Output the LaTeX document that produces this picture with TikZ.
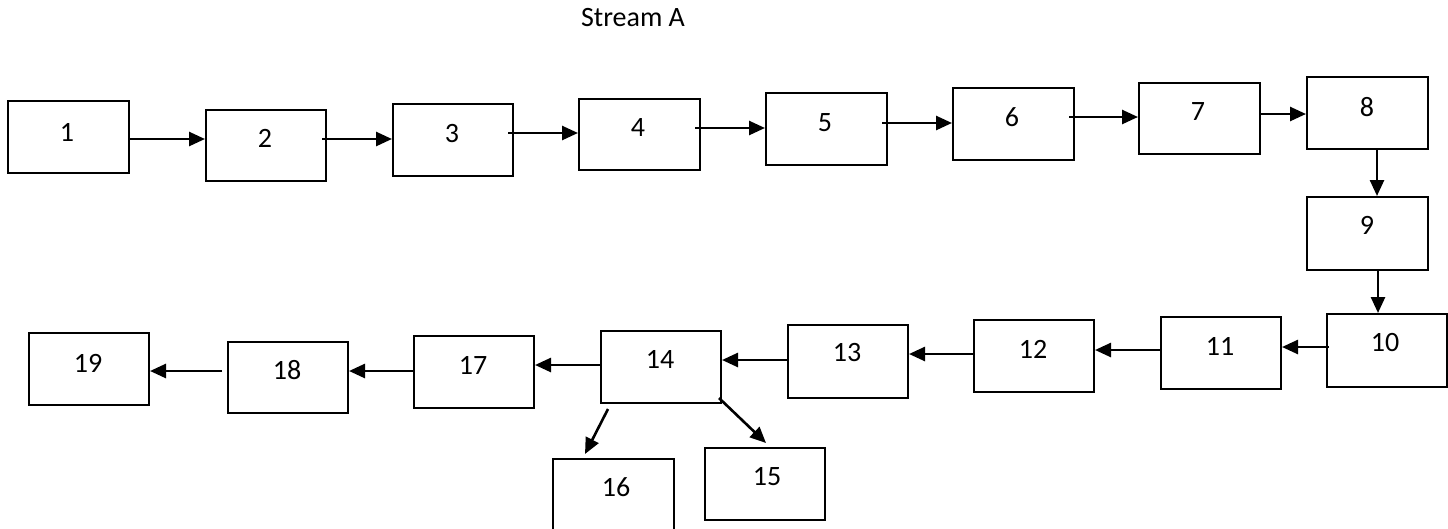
\documentclass[tikz,border=0pt]{standalone}
\usepackage{fontspec}
\setmainfont{Carlito}
\usetikzlibrary{arrows.meta,calc}
\tikzset{
  boxnode/.style={draw=black, line width=2pt, fill=white, inner sep=0pt, anchor=north west},
  lbl/.style={inner sep=0pt, font=\fontsize{28}{34}\selectfont},
  arr/.style={line width=2.6pt, -{Triangle[length=16pt,width=14pt]}},
}
\newcommand{\bx}[5]{\node[boxnode, minimum width=#4-#2, minimum height=#5-#3] (#1) at (#2,#3) {};}
\begin{document}
\begin{tikzpicture}[x=1pt,y=-1pt]
\useasboundingbox (0,0) rectangle (1448,528);
\fill[white] (0,0) rectangle (1448,528);
% boxes
\bx{b1}{7}{100}{128}{172}
\bx{b2}{205}{109}{325}{180}
\bx{b3}{392}{103}{512}{175}
\bx{b4}{578}{98}{699}{169}
\bx{b5}{765}{92}{886}{164}
\bx{b6}{952}{87}{1073}{159}
\bx{b7}{1138}{82}{1259}{153}
\bx{b8}{1306}{76}{1427}{148}
\bx{b9}{1306}{196}{1427}{269}
\bx{b10}{1326}{313}{1446}{386}
\bx{b11}{1160}{316}{1280}{388}
\bx{b12}{973}{319}{1093}{391}
\bx{b13}{787}{324}{907}{397}
\bx{b14}{600}{330}{720}{402}
\bx{b15}{704}{447}{824}{519}
\bx{b16}{552}{458}{673}{530}
\bx{b17}{413}{335}{533}{407}
\bx{b18}{227}{341}{347}{412}
\bx{b19}{28}{332}{148}{404}
% labels
\node[lbl] (t) at (633,18) {Stream A};
\node[lbl] (l1) at (67,132) {1};
\node[lbl] (l2) at (265,138) {2};
\node[lbl] (l3) at (452,134) {3};
\node[lbl] (l4) at (638,128) {4};
\node[lbl] (l5) at (825,123) {5};
\node[lbl] (l6) at (1012,117) {6};
\node[lbl] (l7) at (1198,112) {7};
\node[lbl] (l8) at (1367,107) {8};
\node[lbl] (l9) at (1367,225) {9};
\node[lbl] (l10) at (1385,343) {10};
\node[lbl] (l11) at (1220,346) {11};
\node[lbl] (l12) at (1033,349) {12};
\node[lbl] (l13) at (847,353) {13};
\node[lbl] (l14) at (660,359) {14};
\node[lbl] (l15) at (767,477) {15};
\node[lbl] (l16) at (616,487) {16};
\node[lbl] (l17) at (473,365) {17};
\node[lbl] (l18) at (287,370) {18};
\node[lbl] (l19) at (88,363) {19};
% arrows
\draw[arr] ([yshift=-2pt]b1.east) coordinate (s1) -- (s1 -| b2.west);
\draw[arr] ([xshift=-5pt,yshift=6.5pt]b2.east) coordinate (s2) -- (s2 -| b3.west);
\draw[arr] ([xshift=-6pt,yshift=7pt]b3.east) coordinate (s3) -- (s3 -| b4.west);
\draw[arr] ([xshift=-6pt,yshift=6.5pt]b4.east) coordinate (s4) -- (s4 -| b5.west);
\draw[arr] ([xshift=-6pt,yshift=6pt]b5.east) coordinate (s5) -- (s5 -| b6.west);
\draw[arr] ([xshift=-6pt,yshift=7pt]b6.east) coordinate (s6) -- (s6 -| b7.west);
\draw[arr] ([yshift=4.5pt]b7.east) coordinate (s7) -- (s7 -| b8.west);
\draw[arr] ([xshift=9.5pt]b8.south) coordinate (s8) -- (s8 |- b9.north);
\draw[arr] ([xshift=10.5pt]b9.south) coordinate (s9) -- (s9 |- b10.north);
\draw[arr] ([xshift=3pt,yshift=3.5pt]b10.west) coordinate (s10) -- (s10 -| b11.east);
\draw[arr] ([yshift=3pt]b11.west) coordinate (s11) -- (s11 -| b12.east);
\draw[arr] ([yshift=2pt]b12.west) coordinate (s12) -- (s12 -| b13.east);
\draw[arr] ([yshift=1.5pt]b13.west) coordinate (s13) -- (s13 -| b14.east);
\draw[arr] ([yshift=2pt]b14.west) coordinate (s14) -- (s14 -| b17.east);
\draw[arr] ([yshift=1pt]b17.west) coordinate (s17) -- (s17 -| b18.east);
\draw[arr] ([xshift=-5pt,yshift=6.5pt]b18.west) coordinate (s18) -- (s18 -| b19.east);
\draw[arr] ([xshift=8pt,yshift=-5pt]b14.south west) -- ([xshift=33pt,yshift=4pt]b16.north west);
\draw[arr] ([xshift=-3pt,yshift=6pt]b14.south east) -- ([xshift=1pt,yshift=4pt]b15.north);
\end{tikzpicture}
\end{document}
